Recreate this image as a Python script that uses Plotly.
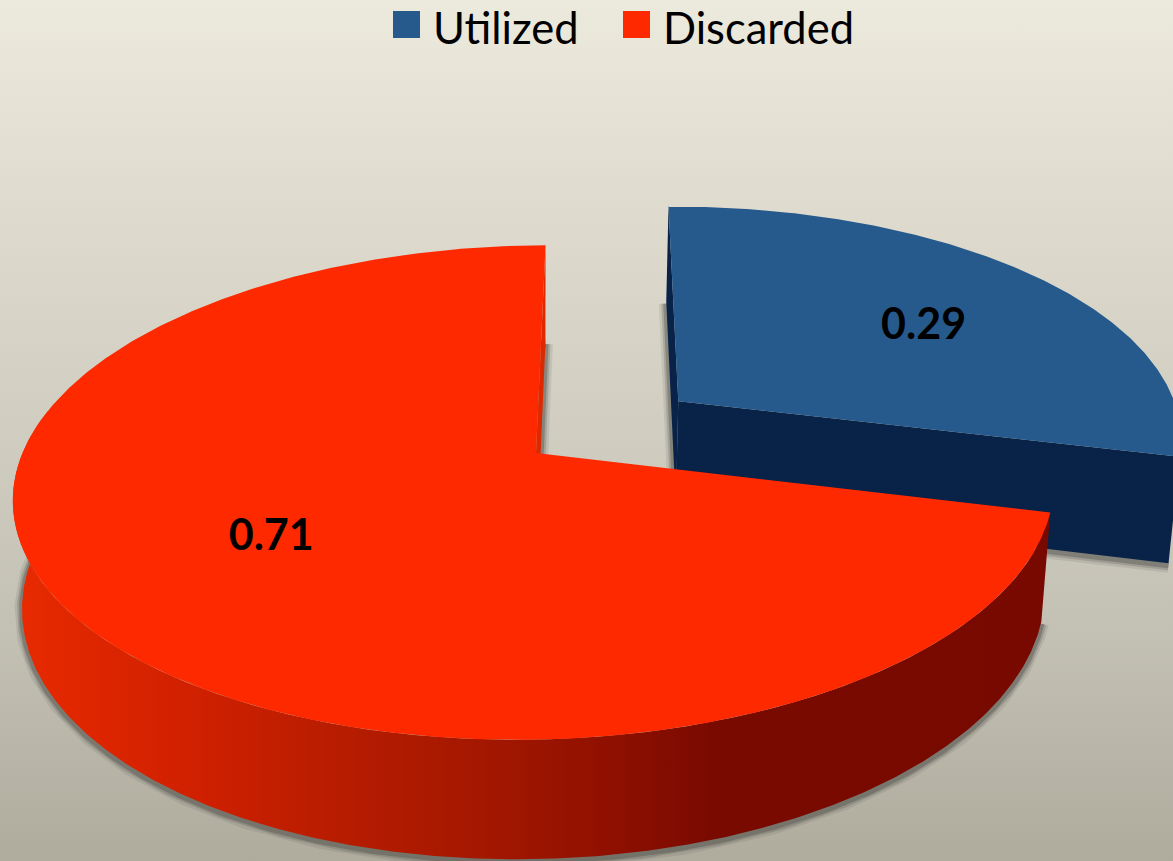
import numpy as np
import plotly.graph_objects as go

# ---- chart data ----
categories = ["Utilized", "Discarded"]
values = [0.29, 0.71]
value_labels = ["0.29", "0.71"]

top_colors = ["#265a8c", "#ff2900"]
face_colors = ["#082347", "#dd2800"]

# ---- projection of the tilted pie onto the page ----
W, H = 1173, 861
CX, CY, KX, KY, PERSP, SHEAR = 536.0, 453.0, 513.5, 241.0, 0.1596, 0.07
START = 90.65           # degrees, Discarded starts here and runs counter-clockwise
EXPLODE = 0.357         # Utilized pulled out along its mid angle
VX, CONV = 540.0, 0.0175
D0, D1 = 85.5, 0.046
SIDE_FROM = 170.0       # the rim of Discarded is visible from this angle on


def project(X, Y):
    X, Y = np.asarray(X, float), np.asarray(Y, float)
    w = 1 + PERSP * Y
    v = KY * Y / w
    return CX + KX * X / w + SHEAR * v, CY - v


def drop(x, y):
    """Point at the base of the pie under a point on its top face."""
    return x + CONV * (VX - x), y + D0 + D1 * y


def wedge(a0, a1, shift=(0.0, 0.0)):
    t = np.radians(np.arange(a0, a1 + 0.25, 0.5))
    t = np.append(t, np.radians(a1))
    return shift[0] + np.cos(t), shift[1] + np.sin(t)


def poly(fig, x, y, color=None, gradient=None):
    kw = dict(x=list(x) + [x[0]], y=list(y) + [y[0]], mode="lines", fill="toself",
              line=dict(width=0), hoverinfo="skip", showlegend=False)
    if gradient is not None:
        kw["fillgradient"] = gradient
    else:
        kw["fillcolor"] = color
    fig.add_trace(go.Scatter(**kw))


def shadow(fig, x, y):
    for width, alpha in [(15, 0.10), (10, 0.18), (6, 0.28)]:
        fig.add_trace(go.Scatter(x=x, y=y + 2, mode="lines", hoverinfo="skip", showlegend=False,
                                 line=dict(color=f"rgba(50,50,45,{alpha})", width=width)))


fig = go.Figure()

# page background
poly(fig, [0, W, W, 0], [0, 0, H, H], gradient=dict(
    type="vertical", start=0, stop=H,
    colorscale=[[0, "#ece9dd"], [0.25, "#dedbce"], [0.75, "#c2bfb3"], [1, "#afac9e"]]))

spans = [values[1] * 360, values[0] * 360]
red_a0, red_a1 = START, START + spans[0]
blue_a0, blue_a1 = red_a1, red_a1 + spans[1]
mid = np.radians((blue_a0 + blue_a1) / 2)
ex, ey = EXPLODE * np.cos(mid), EXPLODE * np.sin(mid)

# ---- Utilized (exploded slice) ----
X, Y = wedge(blue_a0, blue_a1, (ex, ey))
tx, ty = project(X, Y)
ax, ay = project([ex], [ey])
bx, by = drop(tx, ty)
abx, aby = drop(ax, ay)
shadow(fig, np.concatenate([bx[:1], abx, bx[-1:]]), np.concatenate([by[:1], aby, by[-1:]]))
poly(fig, [tx[0], ax[0], abx[0], bx[0]], [ty[0], ay[0], aby[0], by[0]], color=face_colors[0])
poly(fig, [tx[-1], ax[0], abx[0], bx[-1]], [ty[-1], ay[0], aby[0], by[-1]], color=face_colors[0])
poly(fig, np.append(tx, ax), np.append(ty, ay), color=top_colors[0])

# ---- Discarded ----
X, Y = wedge(red_a0, red_a1)
tx, ty = project(X, Y)
ax, ay = project([0.0], [0.0])
bx, by = drop(tx, ty)
abx, aby = drop(ax, ay)
shadow(fig, np.concatenate([abx, bx[:1]]), np.concatenate([aby, by[:1]]))
shadow(fig, bx, by)
poly(fig, [tx[0], ax[0], abx[0], bx[0]], [ty[0], ay[0], aby[0], by[0]], color=face_colors[1])
side_grad = dict(type="horizontal", start=0, stop=W, colorscale=[
    [0.00, "#ea2b00"], [0.09, "#dc2500"], [0.17, "#cf2000"], [0.30, "#b51c00"],
    [0.43, "#a11600"], [0.52, "#8f1000"], [0.61, "#790a00"], [1.00, "#770900"]])
vis = np.arange(len(tx)) >= int((SIDE_FROM - red_a0) / 0.5)
poly(fig, np.concatenate([tx[vis], bx[vis][::-1]]), np.concatenate([ty[vis], by[vis][::-1]]), gradient=side_grad)
poly(fig, np.append(tx, ax), np.append(ty, ay), color=top_colors[1])

# ---- value labels, placed on the slices' top faces ----
lab = [(0.625, np.radians((blue_a0 + blue_a1) / 2 - 5.5), ex, ey),
       (0.585, np.radians((red_a0 + red_a1) / 2 - 3.0), 0.0, 0.0)]
for text, (r, a, sx, sy) in zip(value_labels, lab):
    lx, ly = project([sx + r * np.cos(a)], [sy + r * np.sin(a)])
    fig.add_trace(go.Scatter(x=lx, y=ly, mode="text", text=[text], hoverinfo="skip", showlegend=False,
                             textposition="middle center",
                             textfont=dict(family="Lato", size=43, color="#000000", weight="bold")))

# ---- legend row ----
legend_x = [406.5, 636.5]
legend_text_x = [433, 663]
for name, color, lxp, ltx in zip(categories, top_colors, legend_x, legend_text_x):
    fig.add_trace(go.Scatter(x=[lxp], y=[24.5], mode="markers", name=name, showlegend=False, hoverinfo="skip",
                             marker=dict(symbol="square", size=27, color=color, line=dict(width=0))))
    fig.add_trace(go.Scatter(x=[ltx], y=[33], mode="text", text=[name], textposition="middle right",
                             showlegend=False, hoverinfo="skip", cliponaxis=False,
                             textfont=dict(family="Lato", size=43.5, color="#000000")))

fig.update_layout(
    width=W, height=H, margin=dict(l=0, r=0, t=0, b=0),
    paper_bgcolor="#ece9dd", plot_bgcolor="rgba(0,0,0,0)", showlegend=False,
    xaxis=dict(range=[0, W], visible=False, fixedrange=True),
    yaxis=dict(range=[H, 0], visible=False, fixedrange=True),
)
fig.write_html("out.html", config={"displayModeBar": False},
               post_script="document.body.style.margin='0';document.body.style.overflow='hidden';")
